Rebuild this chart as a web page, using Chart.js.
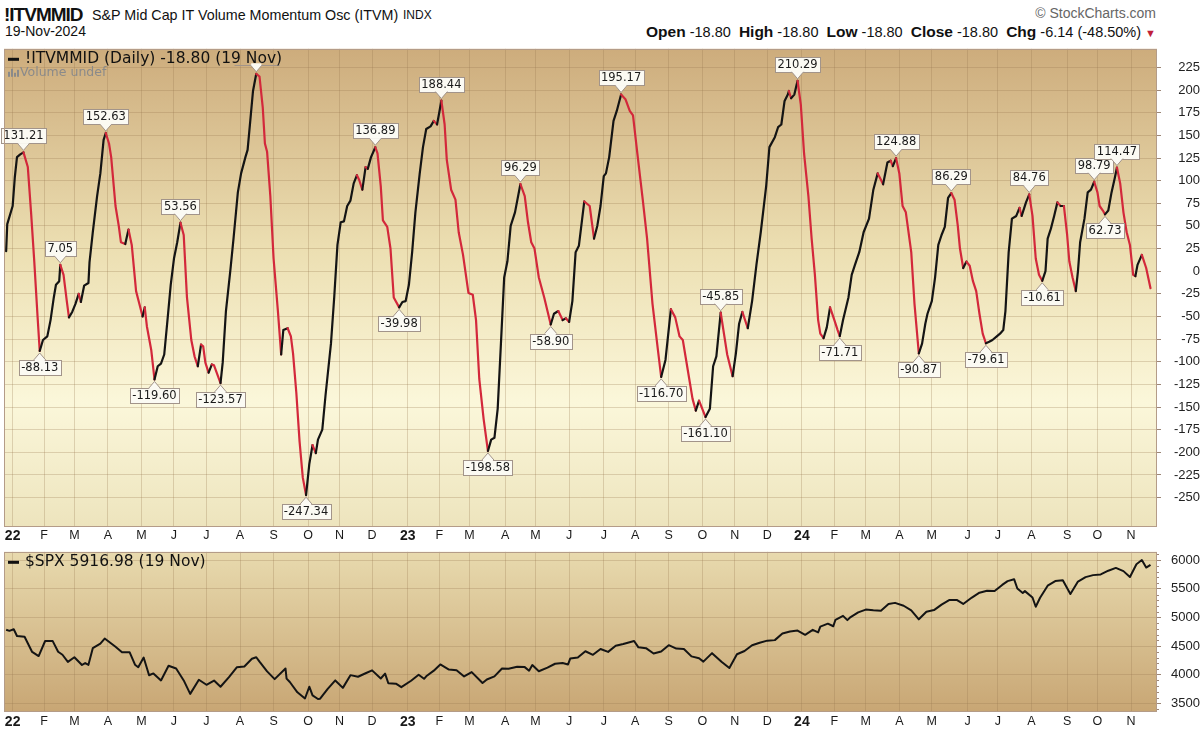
<!DOCTYPE html>
<html><head><meta charset="utf-8">
<script src="https://cdn.jsdelivr.net/npm/chart.js@4.4.1/dist/chart.umd.min.js"></script>
<style>
html,body{margin:0;padding:0;background:#fff;}
body{width:1200px;height:735px;overflow:hidden;position:relative;font-family:"Liberation Sans",Arial,sans-serif;color:#111;}
.abs{position:absolute;white-space:nowrap;line-height:1;}
#sym{left:4px;top:5px;font-weight:bold;font-size:19px;letter-spacing:-1px;}
#name{left:92px;top:8px;font-size:14.3px;}
#exch{left:403px;top:9px;font-size:12px;}
#date{left:5px;top:24px;font-size:14px;}
#copy{right:44px;top:6px;font-size:14px;color:#666;}
#ohlc{right:44px;top:24px;font-size:14.5px;}
#ohlc b{font-size:15.5px;}
#ohlc .dn{color:#c0203a;font-size:11px;}
#c1{position:absolute;left:0;top:39px;}
#c2{position:absolute;left:0;top:543px;}
</style></head>
<body>
<div class="abs" id="sym">!ITVMMID</div>
<div class="abs" id="name">S&amp;P Mid Cap IT Volume Momentum Osc (ITVM)</div>
<div class="abs" id="exch">INDX</div>
<div class="abs" id="date">19-Nov-2024</div>
<div class="abs" id="copy">© StockCharts.com</div>
<div class="abs" id="ohlc"><b>Open</b> -18.80 &nbsp;<b>High</b> -18.80 &nbsp;<b>Low</b> -18.80 &nbsp;<b>Close</b> -18.80 &nbsp;<b>Chg</b> -6.14 (-48.50%) <span class="dn">▼</span></div>
<canvas id="c1" width="1200" height="505"></canvas>
<canvas id="c2" width="1200" height="192"></canvas>
<script>
// ---------------- DATA ----------------
const oscDates = [
'2021-12-28','2021-12-29','2022-01-03','2022-01-05','2022-01-07','2022-01-10','2022-01-13','2022-01-17','2022-01-20','2022-01-23',
'2022-01-26','2022-01-28','2022-01-31','2022-02-04','2022-02-07','2022-02-10','2022-02-12','2022-02-15','2022-02-16','2022-02-19',
'2022-02-22','2022-02-24','2022-02-27','2022-03-02','2022-03-05','2022-03-07','2022-03-10','2022-03-14','2022-03-15','2022-03-18',
'2022-03-22','2022-03-25','2022-03-28','2022-03-30','2022-04-02','2022-04-04','2022-04-08','2022-04-11','2022-04-13','2022-04-17',
'2022-04-20','2022-04-23','2022-04-27','2022-04-30','2022-05-03','2022-05-05','2022-05-07','2022-05-11','2022-05-14','2022-05-17',
'2022-05-20','2022-05-23','2022-05-26','2022-05-29','2022-06-01','2022-06-04','2022-06-07','2022-06-10','2022-06-13','2022-06-17',
'2022-06-20','2022-06-23','2022-06-26','2022-06-28','2022-06-30','2022-07-03','2022-07-06','2022-07-08','2022-07-14','2022-07-16',
'2022-07-19','2022-07-23','2022-07-26','2022-07-30','2022-08-02','2022-08-06','2022-08-08','2022-08-11','2022-08-13','2022-08-16',
'2022-08-19','2022-08-22','2022-08-24','2022-08-26','2022-08-29','2022-09-01','2022-09-05','2022-09-08','2022-09-10','2022-09-14',
'2022-09-17','2022-09-19','2022-09-22','2022-09-25','2022-09-28','2022-10-01','2022-10-04','2022-10-07','2022-10-10','2022-10-12',
'2022-10-16','2022-10-19','2022-10-24','2022-10-27','2022-10-30','2022-11-02','2022-11-05','2022-11-08','2022-11-11','2022-11-14',
'2022-11-17','2022-11-19','2022-11-22','2022-11-25','2022-11-27','2022-11-30','2022-12-04','2022-12-06','2022-12-09','2022-12-11',
'2022-12-15','2022-12-18','2022-12-21','2022-12-26','2022-12-29','2023-01-01','2023-01-04','2023-01-07','2023-01-10','2023-01-14',
'2023-01-17','2023-01-20','2023-01-24','2023-01-27','2023-01-30','2023-02-01','2023-02-03','2023-02-06','2023-02-08','2023-02-12',
'2023-02-16','2023-02-19','2023-02-23','2023-02-28','2023-03-04','2023-03-07','2023-03-10','2023-03-14','2023-03-18','2023-03-21',
'2023-03-24','2023-03-27','2023-03-30','2023-04-02','2023-04-05','2023-04-08','2023-04-12','2023-04-17','2023-04-21','2023-04-24',
'2023-04-27','2023-04-30','2023-05-04','2023-05-09','2023-05-12','2023-05-15','2023-05-18','2023-05-22','2023-05-26','2023-05-29',
'2023-06-01','2023-06-04','2023-06-07','2023-06-10','2023-06-15','2023-06-20','2023-06-24','2023-06-27','2023-06-30','2023-07-03',
'2023-07-05','2023-07-08','2023-07-12','2023-07-15','2023-07-19','2023-07-23','2023-07-27','2023-07-30','2023-08-03','2023-08-08',
'2023-08-12','2023-08-17','2023-08-22','2023-08-25','2023-08-29','2023-09-03','2023-09-07','2023-09-11','2023-09-14','2023-09-18',
'2023-09-23','2023-09-26','2023-09-29','2023-10-05','2023-10-09','2023-10-12','2023-10-15','2023-10-19','2023-10-22','2023-10-25',
'2023-10-30','2023-11-02','2023-11-05','2023-11-08','2023-11-13','2023-11-17','2023-11-21','2023-11-25','2023-11-30','2023-12-03',
'2023-12-08','2023-12-11','2023-12-14','2023-12-17','2023-12-20','2023-12-21','2023-12-23','2023-12-26','2023-12-29','2024-01-01',
'2024-01-04','2024-01-08','2024-01-11','2024-01-14','2024-01-17','2024-01-19','2024-01-22','2024-01-25','2024-01-28','2024-02-01',
'2024-02-04','2024-02-06','2024-02-09','2024-02-11','2024-02-14','2024-02-17','2024-02-20','2024-02-24','2024-02-28','2024-03-04',
'2024-03-08','2024-03-12','2024-03-15','2024-03-17','2024-03-21','2024-03-24','2024-03-26','2024-03-29','2024-04-01','2024-04-04',
'2024-04-07','2024-04-12','2024-04-15','2024-04-19','2024-04-22','2024-04-25','2024-04-27','2024-05-01','2024-05-04','2024-05-07',
'2024-05-10','2024-05-13','2024-05-16','2024-05-19','2024-05-22','2024-05-25','2024-05-27','2024-05-30','2024-06-02','2024-06-05',
'2024-06-08','2024-06-11','2024-06-14','2024-06-17','2024-06-20','2024-06-23','2024-06-26','2024-06-30','2024-07-03','2024-07-06',
'2024-07-08','2024-07-11','2024-07-14','2024-07-18','2024-07-21','2024-07-23','2024-07-27','2024-07-30','2024-08-02','2024-08-05',
'2024-08-08','2024-08-11','2024-08-14','2024-08-16','2024-08-19','2024-08-22','2024-08-25','2024-08-28','2024-08-31','2024-09-03',
'2024-09-05','2024-09-08','2024-09-11','2024-09-13','2024-09-15','2024-09-19','2024-09-22','2024-09-25','2024-09-28','2024-10-01',
'2024-10-03','2024-10-06','2024-10-08','2024-10-11','2024-10-14','2024-10-17','2024-10-19','2024-10-22','2024-10-25','2024-10-28',
'2024-10-31','2024-11-03','2024-11-05','2024-11-07','2024-11-11','2024-11-15','2024-11-19'
];
const oscValues = [
22,52,72,104,126,129,131.21,115,65,10,
-50,-88.13,-76,-72,-54,-29,-15,-11,7.05,-4,
-33,-51,-45,-36,-25,-34,-16,-13,10,43,
83,108,145,152.63,141,126,72,50,32,30,
46,29,-22,-36,-50,-40,-61,-87,-119.60,-105,
-102,-92,-54,-15,14,32,53.56,40,-29,-76,
-94,-105,-81,-83,-101,-112,-103,-104,-123.57,-101,
-44,0,36,87,108,126,134,173,199,218,
215,181,141,132,83,14,-44,-92,-65,-63,
-72,-91,-134,-188,-228,-247.34,-213,-192,-201,-186,
-175,-137,-80,-29,29,54,55,72,78,97,
106,101,90,115,113,126,136.89,130,94,56,
49,25,-29,-39.98,-34,-33,-15,21,65,108,
137,157,160,166,162,175,188.44,162,123,90,
79,43,18,-24,-26,-54,-119,-163,-198.58,-186,
-184,-152,-80,-7,11,50,65,96.29,83,54,
32,25,-7,-29,-44,-58.90,-47,-44,-54,-52,
-56,-33,21,28,77,72,36,50,72,105,
108,126,166,177,195.17,190,177,172,130,79,
36,-36,-87,-116.70,-98,-42,-51,-72,-76,-105,
-141,-154,-143,-161.10,-152,-105,-94,-45.85,-69,-92,
-116,-91,-58,-45,-63,-33,7,43,94,137,
148,159,162,188,195,199,191,195,210.29,184,
130,83,36,-4,-54,-69,-74,-62,-40,-54,
-65,-71.71,-54,-44,-29,-4,7,21,43,58,
90,108,101,96,120,122,116,124.88,108,72,
65,21,-36,-90.87,-80,-58,-47,-33,-7,29,
40,49,81,86.29,79,50,25,3.5,10.6,6,
-11,-22,-47,-69,-79.61,-78,-76,-72,-69,-65,
-44,21,58,61,70,61,76,84.76,61,14,
-4,-10.61,0,36,47,61,76,72,72,40,
11,-7,-22,0,32,58,87,90,98.79,87,
72,67,62.73,67,87,103,114.47,97,65,43,
29,-4,-5.5,7,18,3.5,-18.80
];
// peaks / troughs that carry value labels ('a' = label above, 'b' = label below)
const annDates = ['2022-01-13','2022-01-28','2022-02-16','2022-03-30','2022-05-14','2022-06-07','2022-07-14','2022-08-16',
 '2022-10-01','2022-12-04','2022-12-26','2023-02-03','2023-03-18','2023-04-17','2023-05-15','2023-07-19','2023-08-25',
 '2023-10-05','2023-10-19','2023-12-29','2024-02-06','2024-03-29','2024-04-19','2024-05-19','2024-06-20','2024-07-30',
 '2024-08-11','2024-09-28','2024-10-08','2024-10-19'];
const annPlace = ['a','b','a','a','b','a','b','a','b','a','b','a','b','a','b','a','b','b','a','a','b','a','b','a','b','a','b','a','b','a'];

const spxDates = [
'2021-12-28','2021-12-31','2022-01-04','2022-01-07','2022-01-14','2022-01-21','2022-01-27','2022-02-02','2022-02-09','2022-02-14',
'2022-02-18','2022-02-23','2022-03-01','2022-03-08','2022-03-11','2022-03-14','2022-03-18','2022-03-25','2022-03-29','2022-04-08','2022-04-14',
'2022-04-21','2022-04-26','2022-04-29','2022-05-04','2022-05-09','2022-05-13','2022-05-20','2022-05-27','2022-06-03','2022-06-10',
'2022-06-16','2022-06-24','2022-07-01','2022-07-08','2022-07-14','2022-07-22','2022-07-29','2022-08-05','2022-08-12','2022-08-16',
'2022-08-19','2022-08-26','2022-09-02','2022-09-12','2022-09-13','2022-09-16','2022-09-23','2022-09-30','2022-10-04','2022-10-07',
'2022-10-12','2022-10-14','2022-10-21','2022-10-28','2022-11-04','2022-11-11','2022-11-18','2022-11-25','2022-12-01','2022-12-09',
'2022-12-13','2022-12-16','2022-12-23','2022-12-28','2023-01-06','2023-01-13','2023-01-18','2023-01-20','2023-01-27','2023-02-02','2023-02-10',
'2023-02-17','2023-02-24','2023-03-03','2023-03-13','2023-03-17','2023-03-24','2023-03-31','2023-04-06','2023-04-14','2023-04-21',
'2023-04-25','2023-04-28','2023-05-04','2023-05-12','2023-05-19','2023-05-26','2023-05-31','2023-06-02','2023-06-09','2023-06-16','2023-06-23',
'2023-06-30','2023-07-07','2023-07-14','2023-07-21','2023-07-31','2023-08-04','2023-08-11','2023-08-18','2023-08-25','2023-09-01',
'2023-09-08','2023-09-15','2023-09-22','2023-09-29','2023-10-03','2023-10-11','2023-10-20','2023-10-27','2023-11-03','2023-11-10',
'2023-11-17','2023-11-24','2023-12-01','2023-12-08','2023-12-15','2023-12-22','2023-12-29','2024-01-05','2024-01-12','2024-01-17','2024-01-19',
'2024-01-26','2024-01-31','2024-02-02','2024-02-09','2024-02-13','2024-02-16','2024-02-23','2024-03-01','2024-03-08','2024-03-15',
'2024-03-22','2024-03-28','2024-04-05','2024-04-12','2024-04-19','2024-04-26','2024-05-03','2024-05-10','2024-05-17','2024-05-24',
'2024-05-30','2024-06-07','2024-06-14','2024-06-21','2024-06-28','2024-07-05','2024-07-10','2024-07-16','2024-07-19','2024-07-24','2024-07-26',
'2024-08-02','2024-08-05','2024-08-09','2024-08-16','2024-08-23','2024-08-30','2024-09-06','2024-09-13','2024-09-20','2024-09-27',
'2024-10-04','2024-10-11','2024-10-18','2024-10-25','2024-10-31','2024-11-06','2024-11-11','2024-11-15','2024-11-19'
];
const spxValues = [
4786,4766,4794,4677,4663,4398,4326,4589,4587,4401,
4349,4225,4306,4170,4204,4173,4463,4543,4631,4488,4392,
4394,4175,4132,4300,3991,4023,3901,4158,4109,3901,
3666,3912,3825,3899,3790,3962,4130,4145,4280,4305,
4228,4058,3924,4110,3932,3873,3693,3586,3791,3640,
3577,3583,3753,3901,3771,3993,3965,4026,4076,3934,
4019,3852,3845,3783,3895,3999,3929,3973,4071,4179,4090,
4079,3970,4046,3855,3917,3971,4109,4105,4138,4133,
4071,4169,4061,4124,4192,4205,4180,4282,4299,4410,4348,
4450,4399,4505,4536,4589,4478,4464,4370,4406,4516,
4457,4450,4320,4288,4229,4377,4224,4117,4358,4415,
4514,4559,4595,4604,4719,4755,4770,4697,4784,4739,4840,
4891,4846,4959,5027,4953,5006,5089,5137,5124,5117,
5234,5254,5204,5123,4967,5100,5128,5223,5303,5305,
5235,5347,5432,5465,5460,5567,5633,5667,5505,5427,5459,
5347,5186,5344,5554,5634,5648,5408,5626,5703,5738,
5751,5815,5864,5808,5705,5929,6001,5870,5916.98
];

const monthTickDates = ['2022-01-03','2022-02-01','2022-03-01','2022-04-01','2022-05-02','2022-06-01','2022-07-01','2022-08-01',
 '2022-09-01','2022-10-03','2022-11-01','2022-12-01','2023-01-03','2023-02-01','2023-03-01','2023-04-03','2023-05-01','2023-06-01',
 '2023-07-03','2023-08-01','2023-09-01','2023-10-02','2023-11-01','2023-12-01','2024-01-02','2024-02-01','2024-03-01','2024-04-01',
 '2024-05-01','2024-06-03','2024-07-01','2024-08-01','2024-09-03','2024-10-01','2024-11-01'];
const monthTickLabels = ['22','F','M','A','M','J','J','A','S','O','N','D','23','F','M','A','M','J','J','A','S','O','N','D',
 '24','F','M','A','M','J','J','A','S','O','N'];
const oscTicks = [225,200,175,150,125,100,75,50,25,0,-25,-50,-75,-100,-125,-150,-175,-200,-225,-250];
const spxTicks = [6000,5500,5000,4500,4000,3500];

const oscLegend = '!ITVMMID (Daily) -18.80 (19 Nov)';
const volLegend = 'Volume undef';
const spxLegend = '$SPX 5916.98 (19 Nov)';

// ---------------- HELPERS ----------------
const T0 = Date.UTC(2022,0,1), DAY = 86400000;
function dayOf(s){const p=s.split('-').map(Number);return (Date.UTC(p[0],p[1]-1,p[2])-T0)/DAY;}
const X_MIN = dayOf('2021-12-26'), X_MAX = dayOf('2024-11-25');
const RED = '#d3283b', BLACK = '#141414';
const GRID = 'rgba(150,118,80,0.28)';
const TICKC = '#9c8676';
const BORDER = '#b49c88';

function xScaleOpts(h, pad){
  return {
    type:'linear', min:X_MIN, max:X_MAX,
    afterBuildTicks:s=>{s.ticks = monthTickDates.map(d=>({value:dayOf(d)}));},
    afterFit:s=>{s.height=h;},
    grid:{color:GRID, drawTicks:false, lineWidth:1},
    border:{display:false},
    ticks:{autoSkip:false, maxRotation:0, minRotation:0, padding:pad, color:'#1a1a1a',
      font:c=>({family:'Liberation Sans', size: monthTickLabels[c.index] && monthTickLabels[c.index].length===2 ? 14 : 12.5,
                weight: monthTickLabels[c.index] && monthTickLabels[c.index].length===2 ? 'bold' : 'normal'}),
      callback:(v,i)=>monthTickLabels[i]}
  };
}

function bgPlugin(stops){
  return {id:'bg', beforeDraw(chart){
    const {ctx, chartArea:a} = chart;
    const g = ctx.createLinearGradient(0,a.top,0,a.bottom);
    stops.forEach(s=>g.addColorStop(s[0],s[1]));
    ctx.save(); ctx.fillStyle=g; ctx.fillRect(a.left,a.top,a.right-a.left,a.bottom-a.top); ctx.restore();
  }};
}
const borderPlugin = {id:'brd', afterDraw(chart){
  const {ctx, chartArea:a} = chart;
  ctx.save(); ctx.strokeStyle=BORDER; ctx.lineWidth=1;
  ctx.strokeRect(Math.round(a.left)+0.5, Math.round(a.top)+0.5, Math.round(a.right-a.left)-1, Math.round(a.bottom-a.top)-1);
  ctx.restore();
}};
function legendPlugin(main, sub){
  return {id:'lg', afterDraw(chart){
    const {ctx, chartArea:a} = chart;
    ctx.save();
    ctx.fillStyle='#111'; ctx.fillRect(a.left+4, a.top+9, 11, 3);
    ctx.font='15.5px "DejaVu Sans"'; ctx.textBaseline='middle'; ctx.fillStyle='#111';
    ctx.fillText(main, a.left+21, a.top+10.5);
    if(sub){
      ctx.fillStyle='#8a8a8a';
      [[0,5],[3,8],[6,4],[9,7]].forEach(b=>ctx.fillRect(a.left+4+b[0], a.top+28-b[1], 2, b[1]));
      ctx.font='12.5px "DejaVu Sans"'; ctx.fillText(sub, a.left+16, a.top+23.5);
    }
    ctx.restore();
  }};
}
const annPlugin = {id:'ann', afterDatasetsDraw(chart){
  const {ctx, chartArea:a, scales:{x,y}} = chart;
  ctx.save();
  ctx.beginPath(); ctx.rect(0,a.top,chart.width,a.bottom-a.top); ctx.clip();
  ctx.font='11.5px "DejaVu Sans"'; ctx.textBaseline='middle'; ctx.textAlign='center';
  ctx.lineWidth=1;
  ctx.save(); ctx.font='15.5px "DejaVu Sans"'; const legR = a.left+21+ctx.measureText(oscLegend).width; ctx.restore();
  const legB = a.top+18;
  annDates.forEach((d,k)=>{
    const idx = oscDates.indexOf(d); if(idx<0) return;
    const v = oscValues[idx];
    const px = x.getPixelForValue(dayOf(d)), py = y.getPixelForValue(v);
    const txt = v.toFixed(2);
    const w = Math.round(ctx.measureText(txt).width)+5, h = 15;
    const up = annPlace[k]==='a';
    const tip = up ? py-2 : py+2;
    const base = up ? py-9 : py+9;
    const bx = Math.round(px - w/2)+0.5;
    const by = up ? Math.round(base - h)+0.5 : Math.round(base)+0.5;
    const hidden = up && by < legB && bx < legR;
    ctx.fillStyle='#fbfaf3'; ctx.strokeStyle='#a2948a';
    if(!hidden){
      ctx.fillRect(bx,by,w,h); ctx.strokeRect(bx,by,w,h);
    } else {
      ctx.beginPath(); ctx.moveTo(bx, by+h); ctx.lineTo(bx+w, by+h); ctx.stroke();
    }
    ctx.beginPath();
    ctx.moveTo(px-6, base); ctx.lineTo(px, tip); ctx.lineTo(px+6, base); ctx.closePath();
    ctx.fill();
    ctx.beginPath(); ctx.moveTo(px-6, base); ctx.lineTo(px, tip); ctx.lineTo(px+6, base); ctx.stroke();
    ctx.fillStyle='#fbfaf3'; ctx.fillRect(px-5, up?base-1.5:base-0.5, 10, 2);
    if(!hidden){ ctx.fillStyle='#1a1a1a'; ctx.fillText(txt, px, by+h/2+0.5); }
  });
  ctx.restore();
}};
const minorTickPlugin = {id:'minor', afterDraw(chart){
  const {ctx, chartArea:a, scales:{y}} = chart;
  ctx.save(); ctx.strokeStyle=TICKC; ctx.lineWidth=1;
  for(let v=3400; v<=6100; v+=100){
    if(v%500===0) continue;
    const py = Math.round(y.getPixelForValue(v))+0.5;
    if(py<a.top||py>a.bottom) continue;
    ctx.beginPath(); ctx.moveTo(a.right, py); ctx.lineTo(a.right+2, py); ctx.stroke();
  }
  ctx.restore();
}};

// ---------------- TOP CHART ----------------
Chart.defaults.font.family = 'Liberation Sans';
new Chart(document.getElementById('c1'), {
  type:'line',
  data:{datasets:[{
    data: oscDates.map((d,i)=>({x:dayOf(d), y:oscValues[i]})),
    borderWidth:2.2, pointRadius:0, tension:0, borderColor:BLACK,
    borderJoinStyle:'round', borderCapStyle:'round',
    segment:{borderColor:c=> c.p1.parsed.y < c.p0.parsed.y ? RED : BLACK}
  }]},
  options:{
    responsive:false, animation:false, devicePixelRatio:1,
    layout:{padding:{left:4, top:1, right:0, bottom:0}},
    plugins:{legend:{display:false}, tooltip:{enabled:false}},
    scales:{
      x: xScaleOpts(17, 1),
      y:{position:'right', min:-282.5, max:245.6,
        afterBuildTicks:s=>{s.ticks = oscTicks.map(v=>({value:v}));},
        afterFit:s=>{s.width=43;},
        grid:{color:GRID, tickLength:4, tickColor:TICKC},
        border:{display:false},
        ticks:{padding:2, crossAlign:'far', color:'#222', font:{family:'Liberation Sans', size:13}, callback:v=>String(v)}
      }
    }
  },
  plugins:[bgPlugin([[0,'#cdac7c'],[0.42,'#ecdfb2'],[0.74,'#fbf7da'],[1,'#ede4bd']]), annPlugin, borderPlugin, legendPlugin(oscLegend, volLegend)]
});

// ---------------- BOTTOM CHART ----------------
new Chart(document.getElementById('c2'), {
  type:'line',
  data:{datasets:[{
    data: spxDates.map((d,i)=>({x:dayOf(d), y:spxValues[i]})),
    borderWidth:2, pointRadius:0, tension:0, borderColor:BLACK, borderJoinStyle:'round'
  }]},
  options:{
    responsive:false, animation:false, devicePixelRatio:1,
    layout:{padding:{left:4, top:1, right:0, bottom:0}},
    plugins:{legend:{display:false}, tooltip:{enabled:false}},
    scales:{
      x: xScaleOpts(23, 2),
      y:{position:'right', min:3350, max:6145,
        afterBuildTicks:s=>{s.ticks = spxTicks.map(v=>({value:v}));},
        afterFit:s=>{s.width=43;},
        grid:{color:GRID, tickLength:4, tickColor:TICKC},
        border:{display:false},
        ticks:{padding:1, crossAlign:'far', color:'#222', font:{family:'Liberation Sans', size:13}, callback:v=>String(v)}
      }
    }
  },
  plugins:[bgPlugin([[0,'#e8daae'],[1,'#c8a674']]), borderPlugin, minorTickPlugin, legendPlugin(spxLegend, null)]
});
</script>
</body></html>
